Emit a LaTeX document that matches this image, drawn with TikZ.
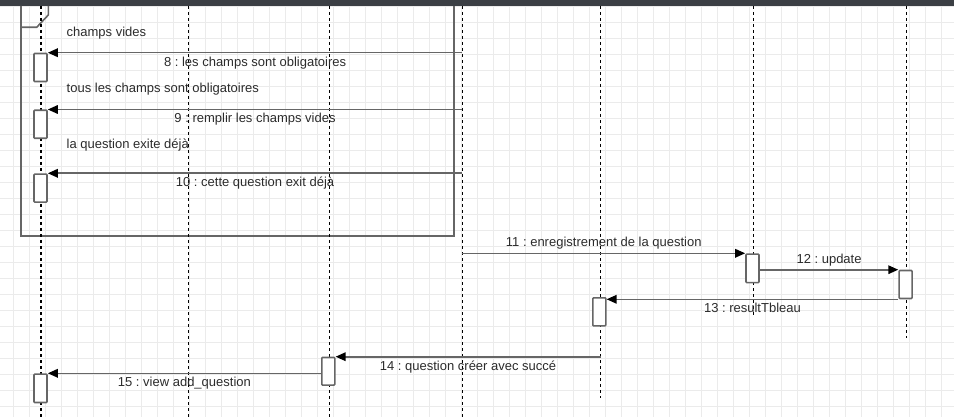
\documentclass[tikz,border=0pt]{standalone}
\usepackage{fontspec}
\setmainfont{Liberation Sans}
\usepackage{tikz}
\usetikzlibrary{positioning,arrows.meta}
\frenchspacing

\definecolor{gridgray}{HTML}{EBEBEB}
\definecolor{bargray}{HTML}{3B3F44}
\definecolor{linegray}{HTML}{666666}
\definecolor{txtgray}{HTML}{2B2B2B}

\begin{document}
\begin{tikzpicture}
            [x=1pt,y=-1pt,
             lifeline/.style={draw=black, line width=1.1pt, dash pattern=on 3pt off 3pt},
             act/.style={draw=linegray, fill=white, line width=1.6pt, rounded corners=0.8pt, minimum width=13pt, inner sep=0pt},
             msg/.style={draw=linegray, line width=1.6pt, -{Triangle[length=10pt,width=8.5pt,color=black]}},
             lbl/.style={text=txtgray, inner sep=0pt, text height=9.5pt, text depth=2.5pt, font=\fontsize{13}{15}\selectfont},
             guard/.style={lbl, anchor=west},
             frame/.style={draw=linegray, line width=1.6pt}]
          \useasboundingbox (0,0) rectangle (954,417);

          % grid
          \foreach \gx in {0,...,58}
            \draw[gridgray, line width=1pt] (13.7+16*\gx,0) -- (13.7+16*\gx,417);
          \foreach \gy in {0,...,25}
            \draw[gridgray, line width=1pt] (0,6.3+16*\gy) -- (954,6.3+16*\gy);
          \fill[bargray] (0,0) rectangle (954,6);

          % alt frame
          \draw[frame] (21,6) -- (21,236) -- (454,236) -- (454,6);
          \draw[frame] (21,6) -- (21,27.3) -- (36.7,27.3) -- (48.3,15) -- (48.3,6);

          % lifelines
          \foreach \lx/\ly in {41/417, 188.5/417, 329.3/417, 462.3/417, 600.5/398, 753.3/317, 906.7/338}
            \draw[lifeline] (\lx,6) -- (\lx,\ly);

          % activations
          \node[act, minimum height=28pt, anchor=north] (a8) at (40.5,52.7) {};
          \node[act, minimum height=28pt, anchor=north] (a9) at (40.5,109.5) {};
          \node[act, minimum height=28pt, anchor=north] (a10) at (40.5,173.3) {};
          \node[act, minimum height=28.5pt, anchor=north] (a11) at (752.5,253.3) {};
          \node[act, minimum height=28pt, anchor=north] (a12) at (905.6,269.7) {};
          \node[act, minimum height=28pt, anchor=north] (a13) at (599.3,297) {};
          \node[act, minimum height=27.6pt, anchor=north] (a14) at (328.3,356.7) {};
          \node[act, minimum height=28.4pt, anchor=north] (a15) at (40.5,373.3) {};

          \coordinate (s8) at (462.3,52.7);
          \coordinate (s9) at (462.3,109.5);
          \coordinate (s10) at (462.3,173.3);
          \coordinate (s11) at (462.3,253.3);
          \coordinate (s14) at (600.5,356.7);

          % guards
          \node[guard] (g1) at (66.5,32.7) {champs vides};
          \node[guard] (g2) at (66.5,89.3) {tous les champs sont obligatoires};
          \node[guard] (g3) at (66.5,145.3) {la question exite déjà};

          % messages
          \draw[msg] (s8) -- (a8.north east) node[lbl, midway, yshift=-10pt] (m8) {8 : les champs sont obligatoires};
          \draw[msg] (s9) -- (a9.north east) node[lbl, midway, yshift=-10pt] (m9) {9 : remplir les champs vides};
          \draw[msg] (s10) -- (a10.north east) node[lbl, midway, yshift=-10pt] (m10) {10 : cette question exit déjà};
          \draw[msg] (s11) -- (a11.north west) node[lbl, midway, yshift=10pt] (m11) {11 : enregistrement de la question};
          \draw[msg] (a11.east |- a12.north) -- (a12.north west) node[lbl, midway, yshift=10pt] (m12) {12 : update};
          \draw[msg] (a12.south west) -- (a12.south west -| a13.east) node[lbl, midway, yshift=-10pt] (m13) {13 : resultTbleau};
          \draw[msg] (s14) -- (a14.north east) node[lbl, midway, yshift=-10pt] (m14) {14 : question créer avec succé};
          \draw[msg] (a14.west |- a15.north) -- (a15.north east) node[lbl, midway, yshift=-10pt] (m15) {15 : view add\_question};
        \end{tikzpicture}
\end{document}
